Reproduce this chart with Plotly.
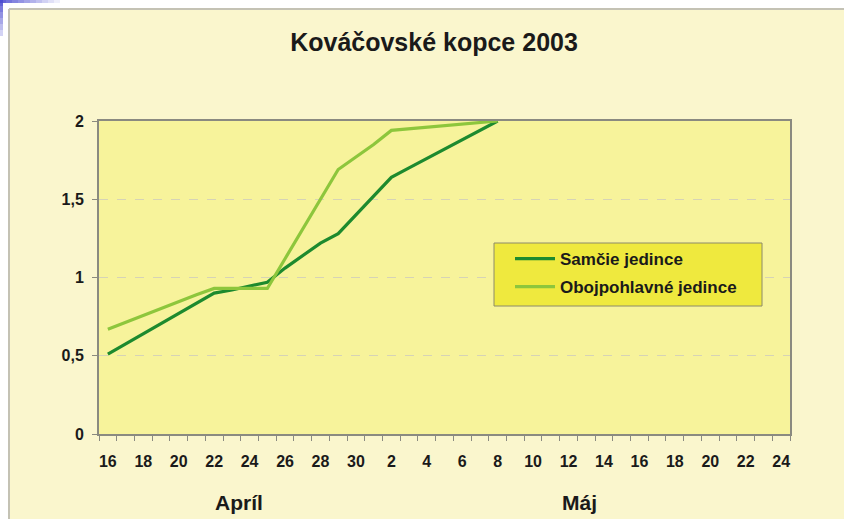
import plotly.graph_objects as go
import pandas as pd

# ---- data ----
dates = pd.date_range("2003-04-16", "2003-05-08", freq="D")
samcie = [0.51, 0.575, 0.64, 0.705, 0.77, 0.84, 0.90, 0.92, 0.945, 0.97,
          1.06, 1.14, 1.22, 1.28, 1.40, 1.52, 1.64, 1.70, 1.76, 1.82, 1.88, 1.94, 2.00]
obojpohlavne = [0.67, 0.715, 0.76, 0.805, 0.85, 0.89, 0.93, 0.93, 0.93, 0.93,
                1.12, 1.31, 1.50, 1.69, 1.77, 1.85, 1.94, 1.95, 1.96, 1.97, 1.98, 1.99, 2.00]
series_names = ["Samčie jedince", "Obojpohlavné jedince"]
month_labels = ["Apríl", "Máj"]
month_pos = ["2003-04-23 10:00", "2003-05-12 15:00"]
title_text = "Kováčovské kopce 2003"

W, H = 844, 519
L, R, T, B = 99, 790, 121, 434
pw, ph = R - L, B - T

def px(x):
    return (x - L) / pw

def py(y):
    return (B - y) / ph

DAY = 86400000
font_family = "Liberation Sans, Arial, sans-serif"
TXT = "#1a1a1a"

fig = go.Figure()
fig.add_trace(go.Scatter(x=dates, y=samcie, name=series_names[0], mode="lines",
                         legendgroup="a",
                         line=dict(color="#1d8a2e", width=3.2)))
fig.add_trace(go.Scatter(x=dates, y=obojpohlavne, name=series_names[1], mode="lines",
                         legendgroup="b",
                         line=dict(color="#8dc63c", width=3.2)))

shapes = []
# white outer strips (page around the cream panel)
shapes.append(dict(type="rect", xref="paper", yref="paper", layer="below",
                   x0=px(-5), x1=px(W + 5), y0=py(9), y1=py(-5),
                   fillcolor="white", line=dict(width=0)))
shapes.append(dict(type="rect", xref="paper", yref="paper", layer="below",
                   x0=px(-5), x1=px(9), y0=py(H + 5), y1=py(-5),
                   fillcolor="white", line=dict(width=0)))
# panel border lines
shapes.append(dict(type="line", xref="paper", yref="paper", layer="below",
                   x0=px(9), x1=px(W + 5), y0=py(9), y1=py(9),
                   line=dict(color="#c4c2b4", width=2)))
shapes.append(dict(type="line", xref="paper", yref="paper", layer="below",
                   x0=px(9), x1=px(9), y0=py(H + 5), y1=py(9),
                   line=dict(color="#c4c2b4", width=2)))
# legend box
shapes.append(dict(type="rect", xref="paper", yref="paper", layer="above",
                   x0=px(494), x1=px(762), y0=py(306), y1=py(243),
                   fillcolor="#efe93e", line=dict(color="#8c8a6a", width=1)))
# blue corner decoration
n = 10
for k in range(n):
    op = 0.85 * (1 - k / n)
    shapes.append(dict(type="rect", xref="paper", yref="paper", layer="above",
                       x0=px(k * 6), x1=px(k * 6 + 6), y0=py(3), y1=py(0),
                       fillcolor="#4a4ad0", opacity=op, line=dict(width=0)))
for k in range(6):
    op = 0.85 * (1 - k / 7)
    shapes.append(dict(type="rect", xref="paper", yref="paper", layer="above",
                       x0=px(0), x1=px(3), y0=py(k * 6 + 6), y1=py(k * 6),
                       fillcolor="#4a4ad0", opacity=op, line=dict(width=0)))

annotations = []
for lab, pos in zip(month_labels, month_pos):
    annotations.append(dict(text=lab, x=pos, xref="x", y=py(502), yref="paper",
                            showarrow=False, xanchor="center", yanchor="middle",
                            font=dict(family=font_family, size=21, color=TXT,
                                      weight="bold")))

fig.update_layout(
    width=W, height=H,
    margin=dict(l=L, r=W - R, t=T, b=H - B, pad=0),
    paper_bgcolor="#faf6cd",
    plot_bgcolor="#f7f39b",
    separators=", ",
    font=dict(family=font_family, color=TXT),
    title=dict(text=title_text, x=px(434), xref="paper", xanchor="center",
               y=1 - 42 / H, yref="container", yanchor="middle",
               font=dict(family=font_family, size=25, color=TXT, weight="bold")),
    showlegend=True,
    legend=dict(x=px(510), y=py(241), xanchor="left", yanchor="top",
                bgcolor="rgba(0,0,0,0)", borderwidth=0,
                tracegroupgap=3,
                font=dict(family=font_family, size=17, color=TXT, weight="bold"),
                itemwidth=40),
    shapes=shapes,
    annotations=annotations,
    xaxis=dict(type="date",
               range=["2003-04-15 12:00", "2003-05-24 12:00"],
               tick0="2003-04-16", dtick=2 * DAY, tickformat="%-d",
               ticks="", ticklabelstandoff=12,
               tickfont=dict(family=font_family, size=16, color=TXT, weight="bold"),
               minor=dict(ticks="outside", tick0="2003-04-15 12:00", dtick=DAY,
                          ticklen=5, tickcolor="#8a8a80", tickwidth=1, showgrid=False),
               showgrid=False, showline=True, linecolor="#8a8a80", linewidth=2,
               mirror=True, zeroline=False, fixedrange=True),
    yaxis=dict(range=[0, 2], dtick=0.5, tick0=0,
               ticks="outside", ticklen=5, tickcolor="#8a8a80",
               ticklabelstandoff=5,
               tickfont=dict(family=font_family, size=16, color=TXT, weight="bold"),
               showgrid=True, gridcolor="#d6d3b6", griddash="dash", gridwidth=1,
               showline=True, linecolor="#8a8a80", linewidth=2, mirror=True,
               zeroline=False, fixedrange=True),
)

fig.write_html("out.html", config={"displayModeBar": False},
               post_script="document.body.style.margin='0';document.body.style.padding='0';")
